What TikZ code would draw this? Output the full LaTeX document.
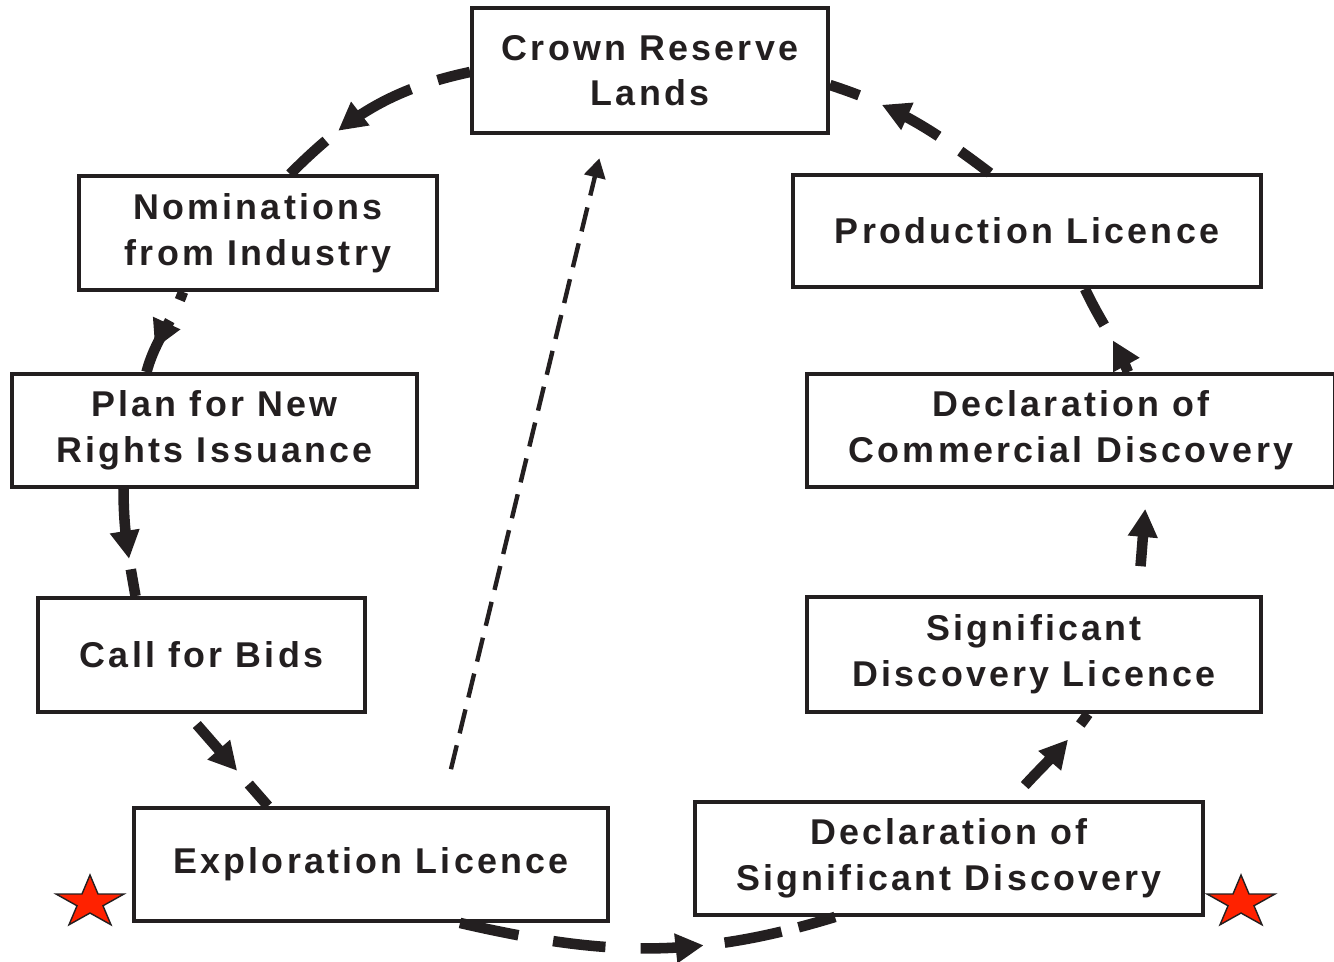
\documentclass[tikz,border=0pt]{standalone}
\usepackage{fontspec}
\newfontfamily\boxfont{Liberation Sans}[LetterSpace=9]
\usetikzlibrary{arrows.meta}
\usetikzlibrary{decorations.markings}
\usetikzlibrary{shapes.geometric}

\definecolor{ink}{HTML}{231F20}
\definecolor{starred}{HTML}{FF2200}

\begin{document}
\begin{tikzpicture}[x=0.02cm,y=0.02cm,
    stage/.style={draw=ink,line width=2.2pt,align=center,text=ink,inner sep=0pt,
      font=\boxfont\bfseries\fontsize{20.4}{26}\selectfont},
    loopflow/.style={draw=ink,line width=6pt,dash pattern=on 30pt off 14pt,
      postaction={decorate},decoration={markings,
        mark=at position #1 with {\arrow{Triangle[length=16pt,width=16pt]}}}},
    loopflow/.default=0.6,
    scoutflow/.style={draw=ink,line width=2.5pt,dash pattern=on 14pt off 7pt,
      -{Triangle[length=11pt,width=12pt]}},
    redstar/.style={star,star points=5,star point ratio=2.618,minimum size=1.43cm,
      inner sep=0pt,draw=ink,line width=0.8pt,fill=starred,transform shape}]
    \useasboundingbox (0,0) rectangle (1334,-961);

    % the boxes
    \node[stage,minimum width=7.12cm,minimum height=2.5cm] (crown) at (650,-70.5) {Crown Reserve\\Lands};
    \node[stage,minimum width=7.16cm,minimum height=2.28cm] (nom) at (258,-233) {Nominations\\from Industry};
    \node[stage,minimum width=8.1cm,minimum height=2.26cm] (plan) at (214.5,-430.5) {Plan for New\\Rights Issuance};
    \node[stage,minimum width=6.54cm,minimum height=2.28cm] (bids) at (201.5,-655) {Call for Bids};
    \node[stage,minimum width=9.48cm,minimum height=2.26cm] (expl) at (371,-864.5) {Exploration Licence};
    \node[stage,minimum width=10.16cm,minimum height=2.26cm] (dsd) at (949,-858.5) {Declaration of\\Significant Discovery};
    \node[stage,minimum width=9.08cm,minimum height=2.3cm] (sdl) at (1034,-654.5) {Significant\\Discovery Licence};
    \node[stage,minimum width=10.56cm,minimum height=2.26cm] (dcd) at (1071,-430.5) {Declaration of\\Commercial Discovery};
    \node[stage,minimum width=9.36cm,minimum height=2.24cm] (prod) at (1027,-231) {Production Licence};

    % the stars
    \foreach \sx/\sname in {90/starl,1241/starr}
    {
      \begin{scope}[shift={(\sx,-902.5)},yscale=0.77]
        \node[redstar] (\sname) at (0,0) {};
      \end{scope}
    }

    % the licence cycle (dashes end just before each arrow tip)
    \draw[loopflow=83pt,dash pattern=on 19pt off 16pt on 40pt off 17pt on 60pt]
      ([yshift=-0.03cm]crown.west) to[out=192,in=45] ([xshift=0.64cm]nom.north);
    \draw[loopflow=36pt,dash pattern=on 5pt off 13pt on 60pt]
      ([xshift=-1.5cm]nom.south) to[out=-110,in=75] ([xshift=-1.36cm]plan.north);
    \draw[loopflow=40pt,dash pattern=on 32pt off 14pt on 40pt]
      ([xshift=-1.82cm]plan.south) to[out=-90,in=100] ([xshift=-1.32cm]bids.north);
    \draw[loopflow=43pt,dash pattern=on 0pt off 8pt on 27pt off 18pt on 50pt]
      ([xshift=-0.28cm]bids.south) -- ([xshift=-2.06cm]expl.north);
    \draw[loopflow=140pt,dash pattern=on 34pt off 20pt on 30pt off 20pt on 28pt off 20pt on 33pt off 10pt on 60pt]
      ([xshift=1.78cm]expl.south) to[out=-13,in=197] ([xshift=-2.28cm]dsd.south);
    \draw[loopflow=47pt,dash pattern=on 0pt off 11pt on 28pt off 19pt on 40pt]
      ([xshift=1.26cm]dsd.north) to[out=50,in=235] ([xshift=1.08cm]sdl.south);
    \draw[draw=ink,line width=6pt,-{Triangle[length=16pt,width=16pt]},shorten <=0.58cm,shorten >=0.4cm]
      ([xshift=2.08cm]sdl.north) to[out=85,in=-95] ([xshift=1.52cm]dcd.south);
    \draw[loopflow=20pt,dash pattern=on 12pt off 18pt on 60pt]
      ([xshift=1.14cm]dcd.north) to[out=112,in=-65] ([xshift=1.16cm]prod.south);
    \draw[loopflow=73pt,dash pattern=on 21pt off 15pt on 29pt off 22pt on 50pt]
      ([xshift=-0.74cm]prod.north) to[out=143,in=-18] ([yshift=-0.29cm]crown.east);

    % back to the reserve
    \draw[scoutflow,shorten <=0.76cm,shorten >=0.48cm] ([xshift=1.42cm]expl.north) -- ([xshift=-0.9cm]crown.south);
\end{tikzpicture}
\end{document}
